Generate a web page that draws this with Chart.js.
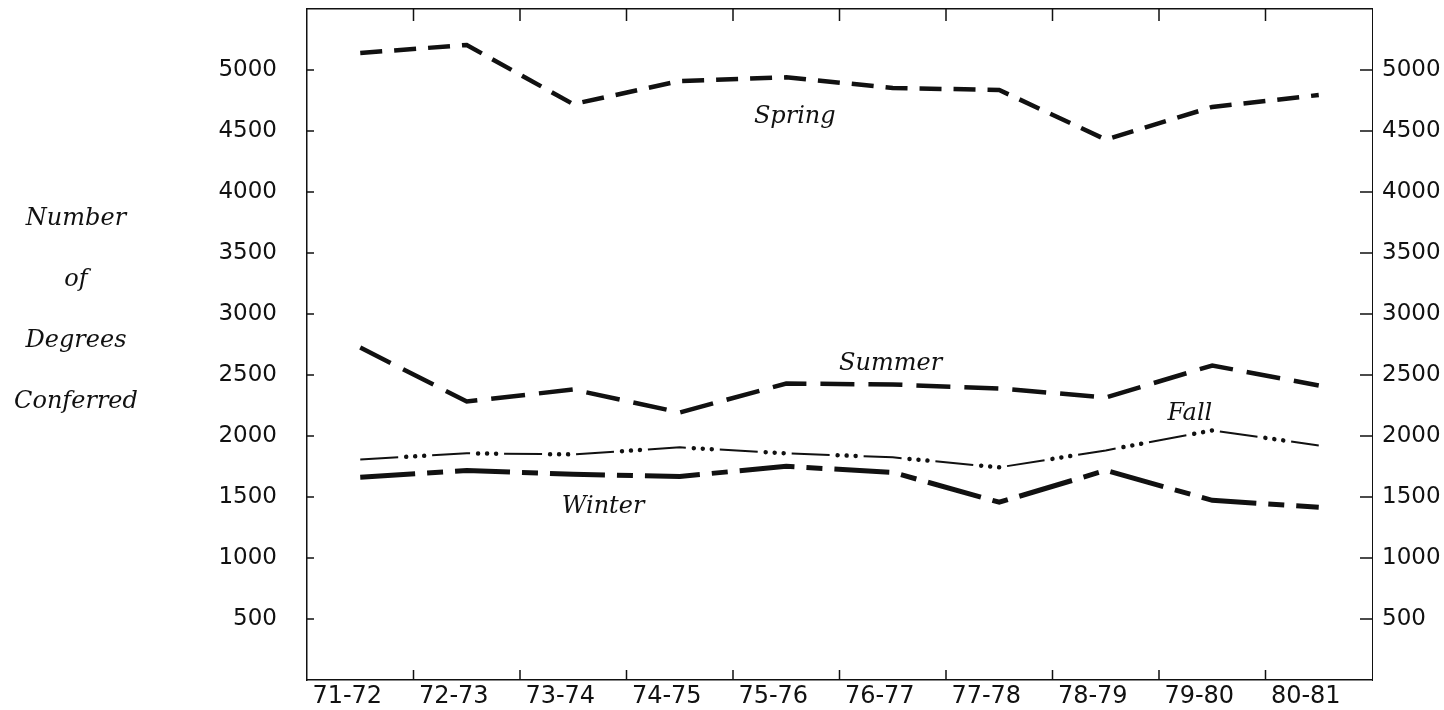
<!DOCTYPE html>
<html>
<head>
<meta charset="utf-8">
<script src="https://cdn.jsdelivr.net/npm/chart.js@4.4.1/dist/chart.umd.min.js"></script>
<style>
  html, body { margin: 0; padding: 0; background: #fff; overflow: hidden; }
  #wrap { width: 1470px; height: 720px; }
</style>
</head>
<body>
<div id="wrap"><canvas id="degrees_chart" width="1470" height="720"></canvas></div>
<script>
// academic years on the x axis
const years = ["71-72", "72-73", "73-74", "74-75", "75-76", "76-77", "77-78", "78-79", "79-80", "80-81"];

// degrees conferred per term
const spring = [5140, 5205, 4720, 4910, 4940, 4853, 4836, 4430, 4697, 4795];
const summer = [2725, 2283, 2381, 2193, 2430, 2422, 2390, 2316, 2578, 2414];
const fall = [1808, 1858, 1849, 1907, 1858, 1825, 1743, 1882, 2046, 1923];
const winter = [1661, 1718, 1686, 1669, 1751, 1702, 1457, 1718, 1473, 1416];

const yTicks = [500, 1000, 1500, 2000, 2500, 3000, 3500, 4000, 4500, 5000];
const axisTitle = ["Number", "of", "Degrees", "Conferred"];

const INK = "#111";
const tickFont = { family: "DejaVu Sans", size: 23 };
const labelFont = "italic 24px 'DejaVu Serif'";

// term names sit next to their lines (category index, value)
const termSpots = [
    { text: "Spring", at: 4.08, value: 4615 },
    { text: "Summer", at: 4.98, value: 2594 },
    { text: "Fall", at: 7.79, value: 2185 },
    { text: "Winter", at: 2.28, value: 1416 },
];

function line(label, data, width, dash, cap, dashOffset) {
    return {
        label,
        data,
        borderColor: INK,
        borderWidth: width,
        borderDash: dash,
        borderDashOffset: dashOffset || 0,
        borderCapStyle: cap || "butt",
        pointRadius: 0,
        tension: 0,
        fill: false,
    };
}

// y scales: keep the plot box flush with the layout padding
function flushY(width) {
    return function (scale) {
        scale.width = width;
        scale.paddingTop = 0;
        scale.paddingBottom = 0;
    };
}

const inkPlugin = {
    id: "ink",
    afterDraw(chart) {
        const { ctx, chartArea: a, scales } = chart;
        const x = scales.x;
        const y = scales.y;
        ctx.save();

        // inward tick marks on all four sides
        ctx.strokeStyle = INK;
        ctx.lineWidth = 1.5;
        ctx.beginPath();
        yTicks.forEach(function (v) {
            const py = y.getPixelForValue(v);
            ctx.moveTo(a.left, py);
            ctx.lineTo(a.left + 7, py);
            ctx.moveTo(a.right - 12, py);
            ctx.lineTo(a.right, py);
        });
        for (let i = 0; i < years.length - 1; i++) {
            const px = (x.getPixelForValue(i) + x.getPixelForValue(i + 1)) / 2;
            ctx.moveTo(px, a.top);
            ctx.lineTo(px, a.top + 12);
            ctx.moveTo(px, a.bottom);
            ctx.lineTo(px, a.bottom - 10);
        }
        ctx.stroke();

        ctx.fillStyle = INK;
        ctx.font = labelFont;
        ctx.textAlign = "center";
        ctx.textBaseline = "middle";
        termSpots.forEach(function (s) {
            const i0 = Math.floor(s.at);
            const p0 = x.getPixelForValue(i0);
            const p1 = x.getPixelForValue(i0 + 1);
            const px = p0 + (p1 - p0) * (s.at - i0);
            ctx.fillText(s.text, px, y.getPixelForValue(s.value));
        });

        axisTitle.forEach(function (t, k) {
            ctx.fillText(t, 76, 219 + k * 61);
        });
        ctx.restore();
    },
};

new Chart(document.getElementById("degrees_chart"), {
    type: "line",
    data: {
        labels: years,
        datasets: [
            line("Spring", spring, 4.5, [22, 12]),
            line("Summer", summer, 4.5, [34, 14]),
            // fall: thin long dash followed by three heavy dots
            line("Fall", fall, 2, [38, 34]),
            line("Fall dots", fall, 4.5, [0.01, 8.99, 0.01, 8.99, 0.01, 53.99], "round", 26),
            line("Winter", winter, 5, [55, 12, 16, 12]),
        ],
    },
    options: {
        responsive: false,
        animation: false,
        layout: { padding: { top: 9, left: 0, right: 0, bottom: 0 } },
        plugins: {
            legend: { display: false },
            tooltip: { enabled: false },
        },
        scales: {
            x: {
                type: "category",
                position: "bottom",
                offset: true,
                grid: { display: false, drawTicks: false },
                border: { display: true, color: INK, width: 1.5 },
                ticks: {
                    color: INK,
                    font: { family: "DejaVu Sans", size: 24 },
                    padding: 2,
                    labelOffset: -13,
                    maxRotation: 0,
                    autoSkip: false,
                },
                afterFit(scale) { scale.height = 40; },
            },
            xTop: {
                type: "category",
                position: "top",
                offset: true,
                grid: { display: false, drawTicks: false },
                border: { display: true, color: INK, width: 1.5 },
                ticks: { display: false },
                afterFit(scale) { scale.height = 0; },
            },
            y: {
                type: "linear",
                position: "left",
                min: 0,
                max: 5500,
                grid: { display: false, drawTicks: false },
                border: { display: true, color: INK, width: 1.5 },
                ticks: {
                    stepSize: 500,
                    color: INK,
                    font: tickFont,
                    padding: 30,
                    callback: (v) => (v > 0 && v < 5500 ? String(v) : ""),
                },
                afterFit: flushY(307),
            },
            yRight: {
                type: "linear",
                position: "right",
                min: 0,
                max: 5500,
                grid: { display: false, drawTicks: false },
                border: { display: true, color: INK, width: 1 },
                ticks: {
                    stepSize: 500,
                    color: INK,
                    font: tickFont,
                    padding: 10,
                    callback: (v) => (v > 0 && v < 5500 ? String(v) : ""),
                },
                afterFit: flushY(98),
            },
        },
    },
    plugins: [inkPlugin],
});
</script>
</body>
</html>
